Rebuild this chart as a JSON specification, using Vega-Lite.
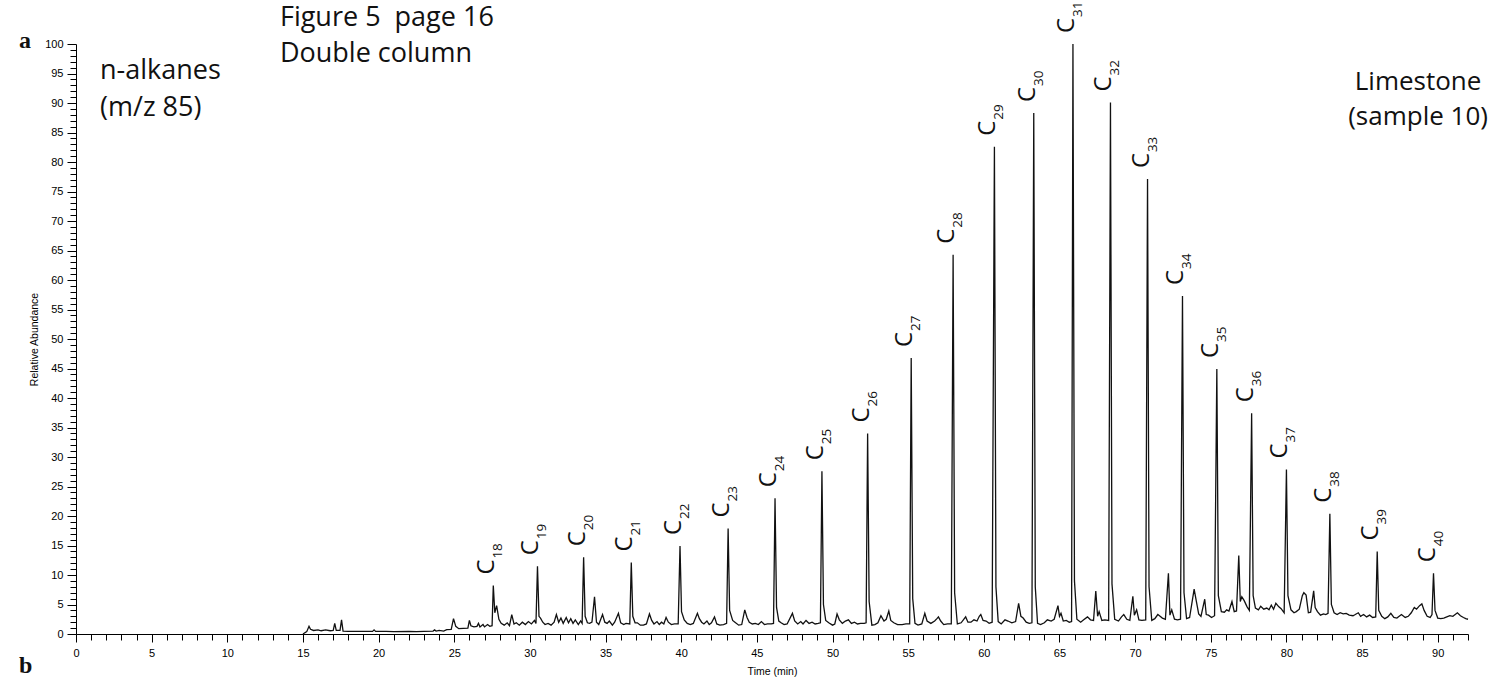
{
"$schema": "https://vega.github.io/schema/vega-lite/v6.json",
"width": 1392,
"height": 590,
"autosize": {"type": "none"},
"padding": {"left": 76, "top": 44, "right": 33, "bottom": 44},
"background": "white",
"config": {"view": {"stroke": null}},
"datasets": {
"trace": [
{"t":15.00,"v":0.0},{"t":15.25,"v":0.4},{"t":15.40,"v":1.3},{"t":15.50,"v":0.8},{"t":15.70,"v":0.6},{"t":16.00,"v":0.7},{"t":16.20,"v":0.55},{"t":16.50,"v":0.7},{"t":16.80,"v":0.55},{"t":17.00,"v":0.6},{"t":17.10,"v":1.8},{"t":17.20,"v":0.6},{"t":17.45,"v":0.6},{"t":17.55,"v":2.4},{"t":17.65,"v":0.5},{"t":18.00,"v":0.45},{"t":18.50,"v":0.45},{"t":19.00,"v":0.45},{"t":19.60,"v":0.45},{"t":19.70,"v":0.7},{"t":19.80,"v":0.45},{"t":20.50,"v":0.45},{"t":21.00,"v":0.4},{"t":22.00,"v":0.45},{"t":22.50,"v":0.4},{"t":23.00,"v":0.45},{"t":23.60,"v":0.5},{"t":23.70,"v":0.7},{"t":23.80,"v":0.5},{"t":24.00,"v":0.6},{"t":24.30,"v":0.5},{"t":24.50,"v":0.75},{"t":24.80,"v":0.8},{"t":24.95,"v":2.6},{"t":25.10,"v":1.3},{"t":25.30,"v":0.9},{"t":25.60,"v":0.95},{"t":25.90,"v":1.0},{"t":26.00,"v":2.3},{"t":26.10,"v":1.4},{"t":26.30,"v":1.2},{"t":26.50,"v":1.3},{"t":26.60,"v":1.8},{"t":26.70,"v":1.2},{"t":26.90,"v":1.6},{"t":27.00,"v":1.2},{"t":27.20,"v":1.6},{"t":27.35,"v":1.3},{"t":27.50,"v":1.4},
{"t":27.58,"v":8.2},{"t":27.68,"v":3.6},{"t":27.80,"v":4.8},{"t":27.95,"v":2.5},{"t":28.10,"v":1.8},{"t":28.30,"v":1.5},{"t":28.50,"v":1.9},{"t":28.65,"v":1.4},{"t":28.80,"v":3.3},{"t":28.95,"v":1.7},{"t":29.10,"v":1.9},{"t":29.30,"v":1.5},{"t":29.50,"v":2.0},{"t":29.70,"v":1.6},{"t":29.90,"v":2.1},{"t":30.10,"v":1.7},{"t":30.30,"v":2.3},{"t":30.40,"v":1.8},
{"t":30.50,"v":11.5},{"t":30.60,"v":3.0},{"t":30.70,"v":2.7},{"t":30.85,"v":2.0},{"t":31.00,"v":1.6},{"t":31.20,"v":1.8},{"t":31.40,"v":1.5},{"t":31.60,"v":2.0},{"t":31.75,"v":3.3},{"t":31.90,"v":2.0},{"t":32.05,"v":2.7},{"t":32.20,"v":1.8},{"t":32.40,"v":2.8},{"t":32.55,"v":1.9},{"t":32.70,"v":2.6},{"t":32.85,"v":1.8},{"t":33.00,"v":2.4},{"t":33.20,"v":1.6},{"t":33.35,"v":2.2},{"t":33.45,"v":1.8},
{"t":33.55,"v":13.0},{"t":33.65,"v":3.0},{"t":33.80,"v":1.9},{"t":33.95,"v":1.8},{"t":34.10,"v":2.0},{"t":34.27,"v":6.3},{"t":34.40,"v":2.0},{"t":34.55,"v":1.6},{"t":34.80,"v":3.3},{"t":34.95,"v":2.0},{"t":35.10,"v":1.8},{"t":35.25,"v":2.2},{"t":35.45,"v":1.5},{"t":35.60,"v":2.0},{"t":35.85,"v":3.5},{"t":36.00,"v":1.9},{"t":36.20,"v":1.6},{"t":36.35,"v":1.8},{"t":36.60,"v":1.7},
{"t":36.70,"v":12.1},{"t":36.80,"v":3.0},{"t":36.95,"v":1.9},{"t":37.10,"v":1.9},{"t":37.30,"v":1.5},{"t":37.50,"v":1.5},{"t":37.70,"v":1.7},{"t":37.90,"v":3.4},{"t":38.05,"v":2.3},{"t":38.20,"v":1.7},{"t":38.40,"v":2.1},{"t":38.55,"v":1.6},{"t":38.70,"v":2.0},{"t":38.85,"v":1.7},{"t":39.00,"v":2.8},{"t":39.15,"v":2.0},{"t":39.35,"v":1.6},{"t":39.55,"v":1.7},{"t":39.80,"v":1.7},
{"t":39.92,"v":14.9},{"t":40.02,"v":3.8},{"t":40.20,"v":2.4},{"t":40.40,"v":1.8},{"t":40.60,"v":1.6},{"t":40.80,"v":1.8},{"t":41.07,"v":3.5},{"t":41.20,"v":2.6},{"t":41.35,"v":2.0},{"t":41.50,"v":1.7},{"t":41.70,"v":2.2},{"t":41.85,"v":1.6},{"t":42.00,"v":1.9},{"t":42.20,"v":2.9},{"t":42.35,"v":1.7},{"t":42.55,"v":1.5},{"t":42.80,"v":1.6},{"t":43.00,"v":1.8},
{"t":43.10,"v":17.9},{"t":43.20,"v":4.0},{"t":43.40,"v":2.3},{"t":43.55,"v":2.0},{"t":43.80,"v":1.5},{"t":44.00,"v":1.6},{"t":44.20,"v":4.1},{"t":44.35,"v":2.8},{"t":44.50,"v":2.0},{"t":44.70,"v":1.7},{"t":44.90,"v":1.8},{"t":45.10,"v":1.6},{"t":45.30,"v":2.1},{"t":45.50,"v":1.6},{"t":45.70,"v":1.7},{"t":45.95,"v":1.7},{"t":46.10,"v":1.8},
{"t":46.20,"v":23.0},{"t":46.30,"v":4.5},{"t":46.45,"v":2.2},{"t":46.60,"v":1.9},{"t":46.80,"v":1.6},{"t":47.00,"v":1.7},{"t":47.35,"v":3.5},{"t":47.50,"v":2.2},{"t":47.70,"v":1.7},{"t":47.90,"v":2.1},{"t":48.05,"v":1.7},{"t":48.25,"v":2.3},{"t":48.45,"v":1.8},{"t":48.65,"v":2.0},{"t":48.85,"v":1.7},{"t":49.05,"v":1.8},{"t":49.20,"v":1.9},
{"t":49.30,"v":27.6},{"t":49.40,"v":5.0},{"t":49.55,"v":2.3},{"t":49.75,"v":1.9},{"t":50.00,"v":1.5},{"t":50.15,"v":1.7},{"t":50.30,"v":3.4},{"t":50.45,"v":2.4},{"t":50.65,"v":1.8},{"t":50.85,"v":2.2},{"t":51.05,"v":2.4},{"t":51.25,"v":1.8},{"t":51.45,"v":2.0},{"t":51.65,"v":1.7},{"t":51.85,"v":1.8},{"t":52.10,"v":1.8},{"t":52.22,"v":1.9},
{"t":52.32,"v":34.0},{"t":52.42,"v":5.5},{"t":52.60,"v":1.5},{"t":52.80,"v":1.6},{"t":53.00,"v":1.9},{"t":53.20,"v":3.1},{"t":53.40,"v":2.2},{"t":53.55,"v":2.5},{"t":53.72,"v":3.9},{"t":53.85,"v":2.3},{"t":54.05,"v":1.9},{"t":54.30,"v":1.6},{"t":54.60,"v":1.6},{"t":54.85,"v":1.7},{"t":55.10,"v":1.7},
{"t":55.20,"v":46.8},{"t":55.30,"v":6.0},{"t":55.45,"v":1.8},{"t":55.65,"v":1.5},{"t":55.90,"v":1.7},{"t":56.10,"v":3.5},{"t":56.25,"v":2.2},{"t":56.50,"v":1.8},{"t":56.75,"v":2.2},{"t":56.90,"v":2.6},{"t":57.00,"v":2.9},{"t":57.15,"v":2.2},{"t":57.35,"v":1.6},{"t":57.60,"v":1.7},{"t":57.85,"v":1.7},
{"t":57.97,"v":64.3},{"t":58.07,"v":7.0},{"t":58.25,"v":1.7},{"t":58.50,"v":1.9},{"t":58.80,"v":2.9},{"t":58.95,"v":2.0},{"t":59.15,"v":2.0},{"t":59.35,"v":2.4},{"t":59.55,"v":2.2},{"t":59.70,"v":3.0},{"t":59.80,"v":3.3},{"t":59.95,"v":2.3},{"t":60.15,"v":2.2},{"t":60.35,"v":1.8},{"t":60.55,"v":2.0},
{"t":60.70,"v":82.6},{"t":60.80,"v":8.0},{"t":60.95,"v":2.1},{"t":61.15,"v":1.7},{"t":61.40,"v":2.4},{"t":61.60,"v":2.2},{"t":61.85,"v":1.9},{"t":62.10,"v":2.1},{"t":62.30,"v":5.2},{"t":62.45,"v":3.0},{"t":62.60,"v":2.7},{"t":62.80,"v":2.0},{"t":63.00,"v":1.8},{"t":63.18,"v":1.9},
{"t":63.30,"v":88.3},{"t":63.40,"v":8.0},{"t":63.55,"v":1.8},{"t":63.75,"v":1.6},{"t":64.00,"v":1.9},{"t":64.20,"v":2.4},{"t":64.45,"v":2.2},{"t":64.65,"v":2.5},{"t":64.90,"v":4.8},{"t":65.00,"v":3.0},{"t":65.10,"v":3.5},{"t":65.25,"v":2.2},{"t":65.45,"v":2.3},{"t":65.65,"v":2.0},{"t":65.80,"v":2.1},
{"t":65.89,"v":100},{"t":65.99,"v":9.0},{"t":66.15,"v":2.5},{"t":66.40,"v":2.0},{"t":66.60,"v":2.4},{"t":66.85,"v":2.9},{"t":67.05,"v":2.4},{"t":67.25,"v":2.3},{"t":67.40,"v":7.3},{"t":67.52,"v":3.0},{"t":67.62,"v":3.8},{"t":67.80,"v":2.3},{"t":68.00,"v":2.4},{"t":68.25,"v":2.3},
{"t":68.37,"v":90.1},{"t":68.47,"v":8.5},{"t":68.65,"v":2.5},{"t":68.90,"v":2.2},{"t":69.10,"v":2.9},{"t":69.25,"v":3.3},{"t":69.45,"v":2.5},{"t":69.65,"v":2.3},{"t":69.85,"v":6.4},{"t":69.95,"v":3.2},{"t":70.10,"v":4.1},{"t":70.25,"v":2.4},{"t":70.45,"v":2.3},{"t":70.70,"v":2.4},
{"t":70.82,"v":77.1},{"t":70.92,"v":8.0},{"t":71.10,"v":2.3},{"t":71.30,"v":2.6},{"t":71.50,"v":3.3},{"t":71.65,"v":3.0},{"t":71.80,"v":2.7},{"t":72.00,"v":2.5},{"t":72.20,"v":10.3},{"t":72.30,"v":3.2},{"t":72.42,"v":4.1},{"t":72.60,"v":2.5},{"t":72.80,"v":2.4},{"t":73.00,"v":2.5},
{"t":73.13,"v":57.3},{"t":73.23,"v":7.0},{"t":73.40,"v":2.6},{"t":73.60,"v":2.8},{"t":73.90,"v":7.6},{"t":74.05,"v":5.5},{"t":74.20,"v":3.4},{"t":74.35,"v":3.0},{"t":74.60,"v":5.9},{"t":74.70,"v":3.3},{"t":74.85,"v":3.2},{"t":75.05,"v":2.8},{"t":75.25,"v":3.1},
{"t":75.40,"v":44.9},{"t":75.50,"v":6.5},{"t":75.70,"v":3.8},{"t":75.90,"v":3.7},{"t":76.05,"v":4.1},{"t":76.20,"v":3.9},{"t":76.40,"v":5.5},{"t":76.55,"v":3.8},{"t":76.70,"v":3.9},{"t":76.85,"v":13.3},{"t":76.95,"v":5.5},{"t":77.05,"v":6.3},{"t":77.20,"v":5.7},{"t":77.40,"v":4.6},{"t":77.55,"v":4.0},
{"t":77.70,"v":37.4},{"t":77.80,"v":6.5},{"t":77.95,"v":4.4},{"t":78.15,"v":4.1},{"t":78.30,"v":4.7},{"t":78.50,"v":4.2},{"t":78.70,"v":4.4},{"t":78.85,"v":4.1},{"t":79.00,"v":4.9},{"t":79.15,"v":4.2},{"t":79.30,"v":5.2},{"t":79.50,"v":4.6},{"t":79.65,"v":4.3},{"t":79.85,"v":3.6},
{"t":80.00,"v":27.9},{"t":80.10,"v":6.5},{"t":80.30,"v":4.1},{"t":80.50,"v":3.6},{"t":80.65,"v":3.8},{"t":80.85,"v":4.2},{"t":81.05,"v":6.5},{"t":81.15,"v":7.0},{"t":81.30,"v":6.6},{"t":81.45,"v":3.6},{"t":81.60,"v":3.7},{"t":81.80,"v":7.3},{"t":81.90,"v":4.5},{"t":82.05,"v":3.8},{"t":82.25,"v":3.2},{"t":82.45,"v":3.4},{"t":82.60,"v":3.3},{"t":82.75,"v":3.5},
{"t":82.87,"v":20.4},{"t":82.97,"v":5.0},{"t":83.15,"v":3.6},{"t":83.35,"v":3.3},{"t":83.55,"v":3.6},{"t":83.75,"v":3.4},{"t":83.95,"v":3.5},{"t":84.15,"v":3.2},{"t":84.40,"v":3.1},{"t":84.55,"v":3.3},{"t":84.75,"v":3.6},{"t":84.90,"v":3.0},{"t":85.10,"v":3.3},{"t":85.30,"v":2.9},{"t":85.50,"v":3.2},{"t":85.70,"v":2.8},{"t":85.90,"v":2.9},
{"t":86.00,"v":14.0},{"t":86.10,"v":4.0},{"t":86.30,"v":3.0},{"t":86.50,"v":2.6},{"t":86.70,"v":2.9},{"t":86.90,"v":3.5},{"t":87.10,"v":2.8},{"t":87.30,"v":2.7},{"t":87.60,"v":3.3},{"t":87.85,"v":2.8},{"t":88.05,"v":3.0},{"t":88.25,"v":3.6},{"t":88.45,"v":4.5},{"t":88.60,"v":4.2},{"t":88.80,"v":4.8},{"t":88.95,"v":5.1},{"t":89.10,"v":4.0},{"t":89.30,"v":3.0},{"t":89.50,"v":2.8},{"t":89.62,"v":3.3},
{"t":89.72,"v":10.3},{"t":89.82,"v":4.0},{"t":90.00,"v":2.7},{"t":90.20,"v":2.6},{"t":90.40,"v":2.7},{"t":90.60,"v":2.9},{"t":90.80,"v":3.1},{"t":91.00,"v":3.0},{"t":91.30,"v":3.6},{"t":91.50,"v":3.1},{"t":91.70,"v":2.8},{"t":91.85,"v":2.6},{"t":92.00,"v":2.5}
],
"peaks": [
{"n":"18","t":27.58,"v":8.2},{"n":"19","t":30.50,"v":11.5},{"n":"20","t":33.55,"v":13.0},{"n":"21","t":36.70,"v":12.1},{"n":"22","t":39.92,"v":14.9},{"n":"23","t":43.10,"v":17.9},{"n":"24","t":46.20,"v":23.0},{"n":"25","t":49.30,"v":27.6},{"n":"26","t":52.32,"v":34.0},{"n":"27","t":55.20,"v":46.8},{"n":"28","t":57.97,"v":64.3},{"n":"29","t":60.70,"v":82.6},{"n":"30","t":63.30,"v":88.3},{"n":"31","t":65.89,"v":100},{"n":"32","t":68.37,"v":90.1},{"n":"33","t":70.82,"v":77.1},{"n":"34","t":73.13,"v":57.3},{"n":"35","t":75.40,"v":44.9},{"n":"36","t":77.70,"v":37.4},{"n":"37","t":80.00,"v":27.9},{"n":"38","t":82.87,"v":20.4},{"n":"39","t":86.00,"v":14.0},{"n":"40","t":89.72,"v":10.3}
]
},
"layer": [
{
"data": {"name": "trace"},
"mark": {"type": "line", "color": "#111111", "strokeWidth": 1.3, "interpolate": "linear"},
"encoding": {
"x": {"field": "t", "type": "quantitative", "scale": {"domain": [0, 92], "nice": false, "zero": false},
"axis": {"title": "Time (min)", "tickCount": 92, "grid": false, "labelExpr": "datum.value % 5 === 0 ? datum.label : ''",
"tickSize": {"condition": {"test": "datum.value % 5 === 0", "value": 8}, "value": 6},
"labelFont": "Liberation Sans", "labelFontSize": 11, "labelColor": "#000000", "labelPadding": 5, "labelOverlap": false, "labelFlush": false,
"domainColor": "#000000", "tickColor": "#000000", "domainWidth": 1, "tickWidth": 1,
"titleFont": "Liberation Sans", "titleFontSize": 10.5, "titleFontWeight": "normal", "titleColor": "#000000", "titlePadding": 8}},
"y": {"field": "v", "type": "quantitative", "scale": {"domain": [0, 100], "nice": false, "zero": false},
"axis": {"title": "Relative Abundance", "tickCount": 100, "grid": false, "labelExpr": "datum.value % 5 === 0 ? datum.label : ''",
"tickSize": {"condition": {"test": "datum.value % 5 === 0", "value": 9}, "value": 6},
"labelFont": "Liberation Sans", "labelFontSize": 11, "labelColor": "#000000", "labelPadding": 4, "labelOverlap": false,
"domainColor": "#000000", "tickColor": "#000000", "domainWidth": 1, "tickWidth": 1,
"titleFont": "Liberation Sans", "titleFontSize": 10.5, "titleFontWeight": "normal", "titleColor": "#000000", "titlePadding": 5}}
}
},
{
"data": {"name": "peaks"},
"mark": {"type": "text", "text": "C", "font": "Open Sans", "fontSize": 24, "angle": 270, "align": "left", "baseline": "alphabetic", "dx": 11, "dy": 1, "color": "#111111"},
"encoding": {
"x": {"field": "t", "type": "quantitative", "scale": {"domain": [0, 92], "nice": false, "zero": false}},
"y": {"field": "v", "type": "quantitative", "scale": {"domain": [0, 100], "nice": false, "zero": false}}
}
},
{
"data": {"name": "peaks"},
"mark": {"type": "text", "font": "Open Sans", "fontSize": 13.5, "angle": 270, "align": "left", "baseline": "alphabetic", "dx": 27, "dy": 9, "color": "#111111"},
"encoding": {
"x": {"field": "t", "type": "quantitative", "scale": {"domain": [0, 92], "nice": false, "zero": false}},
"y": {"field": "v", "type": "quantitative", "scale": {"domain": [0, 100], "nice": false, "zero": false}},
"text": {"field": "n", "type": "nominal"}
}
},
{
"data": {"values": [{}]},
"mark": {"type": "text", "font": "Open Sans", "fontSize": 27, "align": "left", "baseline": "alphabetic", "lineHeight": 37, "color": "#111111"},
"encoding": {
"x": {"datum": 1.59, "type": "quantitative", "scale": {"domain": [0, 92], "nice": false, "zero": false}},
"y": {"datum": 94.0, "type": "quantitative", "scale": {"domain": [0, 100], "nice": false, "zero": false}},
"text": {"value": ["n-alkanes", "(m/z 85)"]}
}
},
{
"data": {"values": [{}]},
"mark": {"type": "text", "font": "Open Sans", "fontSize": 27, "align": "left", "baseline": "alphabetic", "lineHeight": 36, "color": "#111111"},
"encoding": {
"x": {"datum": 13.48, "type": "quantitative", "scale": {"domain": [0, 92], "nice": false, "zero": false}},
"y": {"datum": 103.05, "type": "quantitative", "scale": {"domain": [0, 100], "nice": false, "zero": false}},
"text": {"value": ["Figure 5\u00a0\u00a0page 16", "Double column"]}
}
},
{
"data": {"values": [{}]},
"mark": {"type": "text", "font": "Open Sans", "fontSize": 26, "align": "center", "baseline": "alphabetic", "lineHeight": 35, "color": "#111111"},
"encoding": {
"x": {"datum": 88.7, "type": "quantitative", "scale": {"domain": [0, 92], "nice": false, "zero": false}},
"y": {"datum": 92.2, "type": "quantitative", "scale": {"domain": [0, 100], "nice": false, "zero": false}},
"text": {"value": ["Limestone", "(sample 10)"]}
}
},
{
"data": {"values": [{}]},
"mark": {"type": "text", "font": "Liberation Serif", "fontWeight": "bold", "fontSize": 24, "align": "left", "baseline": "alphabetic", "color": "#111111"},
"encoding": {
"x": {"datum": -3.77, "type": "quantitative", "scale": {"domain": [0, 92], "nice": false, "zero": false}},
"y": {"datum": 99.32, "type": "quantitative", "scale": {"domain": [0, 100], "nice": false, "zero": false}},
"text": {"value": "a"}
}
},
{
"data": {"values": [{}]},
"mark": {"type": "text", "font": "Liberation Serif", "fontWeight": "bold", "fontSize": 24, "align": "left", "baseline": "alphabetic", "color": "#111111"},
"encoding": {
"x": {"datum": -3.77, "type": "quantitative", "scale": {"domain": [0, 92], "nice": false, "zero": false}},
"y": {"datum": -6.6, "type": "quantitative", "scale": {"domain": [0, 100], "nice": false, "zero": false}},
"text": {"value": "b"}
}
}
]
}
